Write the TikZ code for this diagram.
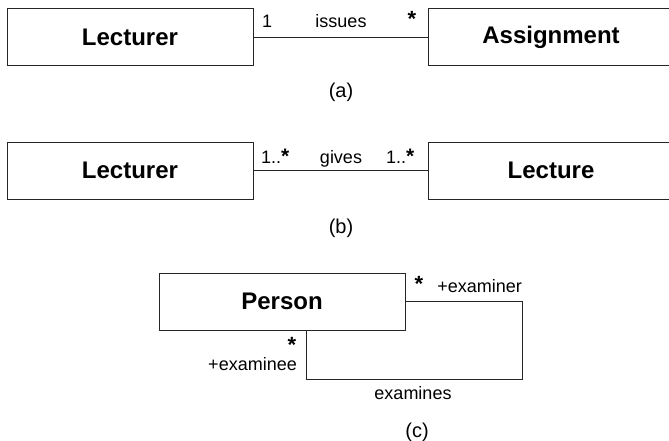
\documentclass[tikz,border=0pt]{standalone}
\usepackage{fontspec}
\setmainfont{Liberation Sans}
\begin{document}
\begin{tikzpicture}[x=1pt,y=-1pt,
  cls/.style={draw=black!85, line width=0.8pt, minimum width=246pt, minimum height=57pt, inner sep=0pt, font=\fontsize{24}{28}\selectfont\bfseries},
  lbl/.style={font=\fontsize{18}{21}\selectfont, inner sep=0pt},
  star/.style={font=\fontsize{22}{24}\selectfont\bfseries, inner sep=0pt},
  capt/.style={font=\fontsize{20}{24}\selectfont, inner sep=0pt},
  assoc/.style={draw=black!85, line width=0.8pt}]
\useasboundingbox (0,0) rectangle (669,440);
% (a)
\node[cls] (lec1) at (130,37) {Lecturer};
\node[cls] (asg) at (551,37) {Assignment};
\draw[assoc] (lec1.east) -- (asg.west);
\node[lbl, anchor=base west] (m1) at (262,27) {1};
\node[lbl, anchor=base] (n1) at (341,27) {issues};
\node[star] (s1) at (412,19) {*};
\node[capt] (ca) at (341,92.5) {(a)};
% (b)
\node[cls] (lec2) at (130,170.5) {Lecturer};
\node[cls] (lct) at (551,170.5) {Lecture};
\draw[assoc] (lec2.east) -- (lct.west);
\node[lbl, anchor=base west] (m2) at (261,163) {1..{\fontsize{21}{24}\selectfont\bfseries *}};
\node[lbl, anchor=base] (n2) at (341,163) {gives};
\node[lbl, anchor=base west] (m3) at (386,163) {1..{\fontsize{21}{24}\selectfont\bfseries *}};
\node[capt] (cb) at (341,228) {(b)};
% (c)
\node[cls] (per) at (282,301.5) {Person};
\coordinate (c1) at (522,301.5);
\coordinate (c2) at (522,379);
\coordinate (c3) at (306,379);
\draw[assoc] (per.east) -- (c1) -- (c2) -- (c3) -- (c3 |- per.south);
\node[star] (s2) at (419,284) {*};
\node[lbl, anchor=base east] (r1) at (522,292) {+examiner};
\node[star] (s3) at (292,345) {*};
\node[lbl, anchor=base east] (r2) at (297,370) {+examinee};
\node[lbl, anchor=base] (n3) at (413,399) {examines};
\node[capt] (cc) at (417,432) {(c)};
\end{tikzpicture}
\end{document}
